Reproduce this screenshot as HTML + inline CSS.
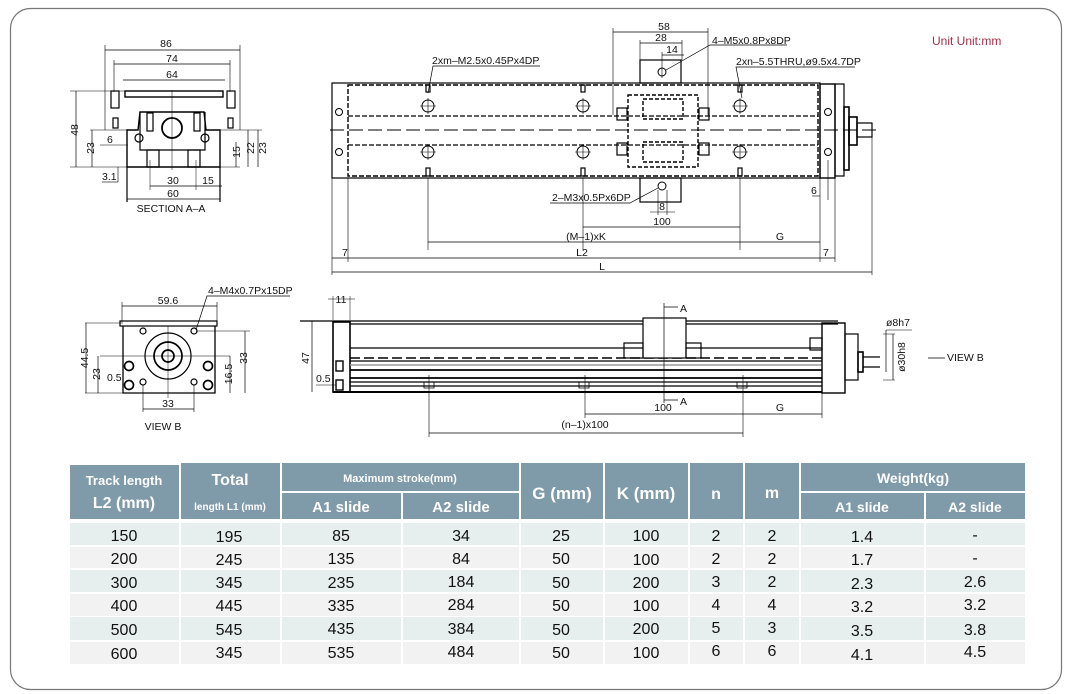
<!DOCTYPE html>
<html><head><meta charset="utf-8"><style>
html,body{margin:0;padding:0;background:#fff;width:1071px;height:694px;overflow:hidden}
svg{display:block}
.d{font-family:"Liberation Sans",sans-serif;font-size:10.5px;fill:#111}
.t{font-family:"Liberation Sans",sans-serif;fill:#fff;text-anchor:middle;font-weight:bold}
.n{font-family:"Liberation Sans",sans-serif;fill:#111;font-size:16px;text-anchor:middle}
</style></head><body>
<svg width="1071" height="694" viewBox="0 0 1071 694" xmlns="http://www.w3.org/2000/svg">
<rect x="10.5" y="8.5" width="1051" height="681" rx="20" fill="#fff" stroke="#777" stroke-width="1.2"/>
<text x="932" y="45" style="font-family:'Liberation Sans',sans-serif;font-size:12px;fill:#a0304a">Unit Unit:mm</text>

<g stroke="#000" fill="none" stroke-width="1.2">
<!-- SECTION A-A -->
<line x1="105" y1="50" x2="240" y2="50" stroke-width="0.7"/><line x1="105" y1="45" x2="105" y2="130" stroke-width="0.6"/><line x1="240" y1="45" x2="240" y2="130" stroke-width="0.6"/>
<line x1="114" y1="64" x2="230" y2="64" stroke-width="0.7"/><line x1="114" y1="60" x2="114" y2="92" stroke-width="0.6"/><line x1="230" y1="60" x2="230" y2="92" stroke-width="0.6"/>
<line x1="123" y1="80" x2="225" y2="80" stroke-width="0.7"/>
<rect x="125" y="91" width="98" height="6" stroke-width="1.4"/>
<rect x="111" y="91" width="8" height="17"/><rect x="227" y="91" width="8" height="17"/>
<rect x="113" y="118" width="5" height="10"/><rect x="228" y="118" width="5" height="10"/>
<path d="M127 130 L138 130 L140 112 L204 112 L206 130 L220 130 L220 167 L127 167 Z" stroke-width="1.4"/>
<path d="M140 112 L140 150 L205 150 L205 112"/>
<rect x="147" y="113" width="6" height="18"/><rect x="194" y="113" width="6" height="18"/>
<circle cx="172" cy="128" r="10" stroke-width="1.8"/>
<circle cx="139" cy="138" r="4"/><circle cx="205" cy="138" r="4"/>
<rect x="147" y="150" width="12" height="17"/><rect x="188" y="150" width="12" height="17"/>
<line x1="172" y1="90" x2="172" y2="170" stroke-width="0.5"/>
<line x1="70" y1="91" x2="125" y2="91" stroke-width="0.5"/><line x1="70" y1="167" x2="240" y2="167" stroke-width="0.5"/>
<line x1="76" y1="91" x2="76" y2="167" stroke-width="0.7"/>
<line x1="90" y1="130" x2="127" y2="130" stroke-width="0.5"/><line x1="92" y1="130" x2="92" y2="167" stroke-width="0.7"/>
<line x1="220" y1="130" x2="262" y2="130" stroke-width="0.5"/><line x1="258" y1="130" x2="258" y2="167" stroke-width="0.7"/>
<line x1="248" y1="130" x2="248" y2="167" stroke-width="0.7"/><line x1="236" y1="142" x2="236" y2="167" stroke-width="0.7"/>
<line x1="100" y1="145" x2="128" y2="145" stroke-width="0.6"/>
<line x1="118" y1="167" x2="118" y2="182" stroke-width="0.6"/><line x1="102" y1="182" x2="118" y2="182" stroke-width="0.6"/>
<line x1="150" y1="186" x2="196" y2="186" stroke-width="0.7"/><line x1="196" y1="186" x2="222" y2="186" stroke-width="0.7"/>
<line x1="127" y1="199" x2="220" y2="199" stroke-width="0.7"/><line x1="127" y1="167" x2="127" y2="202"/><line x1="220" y1="167" x2="220" y2="202"/>
<line x1="150" y1="160" x2="150" y2="190" stroke-width="0.5"/><line x1="196" y1="160" x2="196" y2="190" stroke-width="0.5"/>

<!-- TOP VIEW -->
<rect x="332" y="83" width="488" height="95" stroke-width="1.2"/>
<rect x="348" y="85" width="470" height="91" stroke-dasharray="5,2" stroke-width="1.4"/>
<line x1="348" y1="116" x2="818" y2="116" stroke-dasharray="5,2"/>
<line x1="348" y1="145" x2="818" y2="145" stroke-dasharray="5,2"/>
<line x1="330" y1="130" x2="880" y2="130" stroke-dasharray="14,5" stroke-width="0.9"/>
<rect x="820" y="84" width="15" height="94" stroke-width="1.4"/>
<rect x="835" y="84" width="9" height="92"/>
<rect x="844" y="107" width="5" height="63" stroke-width="1.6"/>
<rect x="849" y="117" width="8" height="28" stroke-width="1.6"/>
<rect x="857" y="123" width="15" height="14"/>
<g stroke-width="1">
<circle cx="428" cy="106" r="6"/><circle cx="583" cy="106" r="6"/><circle cx="740" cy="106" r="6"/>
<circle cx="428" cy="152" r="6"/><circle cx="583" cy="152" r="6"/><circle cx="740" cy="152" r="6"/>
<circle cx="339" cy="112" r="3.5"/><circle cx="339" cy="152" r="3.5"/><circle cx="828" cy="112" r="3.5"/><circle cx="828" cy="152" r="3.5"/>
<circle cx="662" cy="72" r="4"/><circle cx="662" cy="186" r="4"/>
</g>
<path d="M420 106h16M428 98v16M575 106h16M583 98v16M732 106h16M740 98v16M420 152h16M428 144v16M575 152h16M583 144v16M732 152h16M740 144v16" stroke-width="0.6"/>
<rect x="426" y="85" width="4" height="7"/><rect x="581" y="85" width="4" height="7"/><rect x="738" y="85" width="4" height="7"/>
<rect x="426" y="168" width="4" height="8"/><rect x="581" y="168" width="4" height="8"/><rect x="738" y="168" width="4" height="8"/>
<rect x="628" y="95" width="70" height="72" stroke-dasharray="4,2" stroke-width="1.4"/>
<rect x="643" y="99" width="40" height="20" stroke-dasharray="4,2" stroke-width="1.4"/>
<rect x="643" y="142" width="40" height="20" stroke-dasharray="4,2" stroke-width="1.4"/>
<rect x="617" y="108" width="10" height="12"/><rect x="699" y="108" width="10" height="12"/>
<rect x="617" y="143" width="10" height="12"/><rect x="699" y="143" width="10" height="12"/>
<rect x="640" y="60" width="41" height="23"/><rect x="640" y="178" width="41" height="24"/>
<line x1="613" y1="28" x2="613" y2="115" stroke-width="0.6"/><line x1="708" y1="28" x2="708" y2="115" stroke-width="0.6"/>
<line x1="613" y1="32" x2="708" y2="32" stroke-width="0.7"/>
<line x1="640" y1="43" x2="682" y2="43" stroke-width="0.7"/><line x1="640" y1="40" x2="640" y2="60" stroke-width="0.6"/><line x1="682" y1="40" x2="682" y2="60" stroke-width="0.6"/>
<line x1="662" y1="55" x2="684" y2="55" stroke-width="0.7"/><line x1="662" y1="52" x2="662" y2="78" stroke-width="0.6"/>
<path d="M666 70 L710 45 L787 45" stroke-width="0.7"/>
<path d="M428 93 L433 66 L540 66" stroke-width="0.7"/>
<path d="M742 98 L736 67 L855 67" stroke-width="0.7"/>
<path d="M658 188 L630 203 L550 203" stroke-width="0.7"/>
<line x1="658" y1="190" x2="658" y2="215" stroke-width="0.6"/><line x1="667" y1="190" x2="667" y2="215" stroke-width="0.6"/>
<line x1="650" y1="212" x2="675" y2="212" stroke-width="0.6"/>
<line x1="583" y1="178" x2="583" y2="250" stroke-width="0.6"/><line x1="428" y1="178" x2="428" y2="250" stroke-width="0.6"/><line x1="740" y1="178" x2="740" y2="250" stroke-width="0.6"/>
<line x1="583" y1="227" x2="740" y2="227" stroke-width="0.7"/>
<line x1="428" y1="242" x2="820" y2="242" stroke-width="0.7"/>
<line x1="332" y1="178" x2="332" y2="275" stroke-width="0.6"/><line x1="348" y1="178" x2="348" y2="262" stroke-width="0.6"/>
<line x1="820" y1="178" x2="820" y2="262" stroke-width="0.6"/><line x1="835" y1="178" x2="835" y2="262" stroke-width="0.6"/>
<line x1="872" y1="137" x2="872" y2="275" stroke-width="0.6"/>
<line x1="812" y1="196" x2="820" y2="196" stroke-width="0.6"/><line x1="828" y1="160" x2="828" y2="200" stroke-width="0.6"/>
<line x1="332" y1="258" x2="835" y2="258" stroke-width="0.7"/>
<line x1="332" y1="272" x2="872" y2="272" stroke-width="0.7"/>

<!-- VIEW B -->
<line x1="122" y1="306" x2="217" y2="306" stroke-width="0.7"/><line x1="122" y1="302" x2="122" y2="322" stroke-width="0.6"/><line x1="217" y1="302" x2="217" y2="322" stroke-width="0.6"/>
<rect x="120" y="321" width="97" height="5"/>
<path d="M123 326 L123 393 L215 393 L215 326" stroke-width="1.3"/>
<circle cx="168" cy="356" r="23"/><circle cx="168" cy="356" r="14" stroke-width="1.7"/><circle cx="168" cy="356" r="6" stroke-width="1.7"/>
<circle cx="143" cy="331" r="3"/><circle cx="194" cy="331" r="3"/><circle cx="143" cy="382" r="3"/><circle cx="194" cy="382" r="3"/>
<circle cx="129" cy="366" r="4.5" stroke-width="1.7"/><circle cx="208" cy="366" r="4.5" stroke-width="1.7"/>
<circle cx="129" cy="385" r="4.5" stroke-width="1.7"/><circle cx="208" cy="385" r="4.5" stroke-width="1.7"/>
<line x1="100" y1="356" x2="230" y2="356" stroke-width="0.5"/><line x1="168" y1="326" x2="168" y2="398" stroke-width="0.5"/>
<line x1="85" y1="323" x2="123" y2="323" stroke-width="0.5"/><line x1="85" y1="393" x2="123" y2="393" stroke-width="0.5"/>
<line x1="86" y1="323" x2="86" y2="393" stroke-width="0.7"/><line x1="98" y1="356" x2="98" y2="393" stroke-width="0.7"/>
<line x1="196" y1="331" x2="250" y2="331" stroke-width="0.5"/><line x1="245" y1="331" x2="245" y2="393" stroke-width="0.7"/>
<line x1="230" y1="356" x2="230" y2="393" stroke-width="0.7"/>
<line x1="143" y1="385" x2="143" y2="412" stroke-width="0.6"/><line x1="194" y1="385" x2="194" y2="412" stroke-width="0.6"/>
<line x1="143" y1="409" x2="194" y2="409" stroke-width="0.7"/>
<path d="M196 330 L207 296 L290 296" stroke-width="0.7"/>

<!-- SIDE VIEW -->
<line x1="300" y1="321" x2="838" y2="321"/><line x1="350" y1="324" x2="838" y2="324"/>
<rect x="333" y="322" width="17" height="70" stroke-width="1.6"/>
<rect x="336" y="361" width="7" height="10" stroke-width="1.4"/><rect x="336" y="380" width="7" height="10" stroke-width="1.4"/>
<line x1="350" y1="348" x2="822" y2="348"/>
<line x1="350" y1="358" x2="822" y2="358" stroke-dasharray="10,4" stroke-width="1.6"/>
<line x1="350" y1="361" x2="822" y2="361"/>
<line x1="350" y1="365" x2="822" y2="365" stroke="#999" stroke-width="1.5"/>
<line x1="350" y1="370" x2="822" y2="370" stroke-width="1.7"/>
<line x1="350" y1="378" x2="822" y2="378" stroke-width="1.7"/>
<line x1="350" y1="382" x2="822" y2="382"/><line x1="350" y1="386" x2="822" y2="386"/>
<line x1="333" y1="392" x2="822" y2="392" stroke-width="2"/>
<rect x="643" y="318" width="43" height="40" fill="#fff"/>
<rect x="624" y="343" width="19" height="15"/><rect x="686" y="343" width="15" height="15"/>
<rect x="822" y="323" width="23" height="70" stroke-width="1.4"/>
<rect x="810" y="338" width="12" height="12"/>
<rect x="845" y="334" width="13" height="46"/><rect x="858" y="352" width="5" height="20" stroke-width="1.6"/>
<line x1="863" y1="357" x2="880" y2="357"/><line x1="863" y1="367" x2="880" y2="367"/>
<line x1="664" y1="303" x2="664" y2="403" stroke-width="0.7"/>
<path d="M664 307 h14 M664 400 h14" stroke-width="0.7"/>
<path d="M424 382 h10 v6 h-10 z M579 382 h10 v6 h-10 z M737 382 h10 v6 h-10 z" stroke-width="0.8"/>
<line x1="429" y1="375" x2="429" y2="437" stroke-width="0.6"/><line x1="585" y1="375" x2="585" y2="418" stroke-width="0.6"/><line x1="743" y1="375" x2="743" y2="437" stroke-width="0.6"/>
<line x1="822" y1="393" x2="822" y2="418" stroke-width="0.6"/>
<line x1="585" y1="414" x2="822" y2="414" stroke-width="0.7"/>
<line x1="429" y1="433" x2="743" y2="433" stroke-width="0.7"/>
<line x1="312" y1="321" x2="312" y2="392" stroke-width="0.7"/>
<line x1="333" y1="296" x2="333" y2="320" stroke-width="0.5"/><line x1="350" y1="296" x2="350" y2="320" stroke-width="0.5"/>
<line x1="328" y1="299" x2="355" y2="299" stroke-width="0.6"/>
<line x1="316" y1="385" x2="336" y2="385" stroke-width="0.5"/>
<line x1="883" y1="334" x2="895" y2="334" stroke-width="0.5"/><line x1="883" y1="380" x2="895" y2="380" stroke-width="0.5"/>
<line x1="893" y1="334" x2="893" y2="380" stroke-width="0.7"/><line x1="886" y1="330" x2="886" y2="372" stroke-width="0.7"/>
<line x1="886" y1="330" x2="912" y2="330" stroke-width="0.6"/>
<line x1="928" y1="358" x2="945" y2="358" stroke-width="0.7"/>
</g>

<g class="d">
<text x="166" y="47" text-anchor="middle">86</text><text x="172" y="62" text-anchor="middle">74</text><text x="172" y="78" text-anchor="middle">64</text>
<text x="73" y="135" transform="rotate(-90 73 130)" text-anchor="middle">48</text>
<text x="90" y="152" transform="rotate(-90 90 148)" text-anchor="middle">23</text>
<text x="262" y="152" transform="rotate(-90 262 148)" text-anchor="middle">23</text>
<text x="250" y="152" transform="rotate(-90 250 148)" text-anchor="middle">22</text>
<text x="236" y="156" transform="rotate(-90 236 152)" text-anchor="middle">15</text>
<text x="107" y="143">6</text><text x="102" y="180">3.1</text>
<text x="173" y="184" text-anchor="middle">30</text><text x="208" y="184" text-anchor="middle">15</text>
<text x="173" y="197" text-anchor="middle">60</text>
<text x="171" y="212" text-anchor="middle">SECTION A–A</text>
<text x="664" y="30" text-anchor="middle">58</text><text x="661" y="41" text-anchor="middle">28</text><text x="672" y="53" text-anchor="middle">14</text>
<text x="712" y="44">4–M5x0.8Px8DP</text>
<text x="432" y="64">2xm–M2.5x0.45Px4DP</text>
<text x="736" y="65">2xn–5.5THRU,ø9.5x4.7DP</text>
<text x="552" y="201">2–M3x0.5Px6DP</text>
<text x="662" y="210" text-anchor="middle">8</text>
<text x="662" y="225" text-anchor="middle">100</text>
<text x="586" y="240" text-anchor="middle">(M–1)xK</text>
<text x="780" y="240" text-anchor="middle">G</text>
<text x="582" y="256" text-anchor="middle">L2</text>
<text x="602" y="270" text-anchor="middle">L</text>
<text x="342" y="256">7</text><text x="823" y="256">7</text><text x="811" y="194">6</text>
<text x="168" y="304" text-anchor="middle">59.6</text>
<text x="208" y="294">4–M4x0.7Px15DP</text>
<text x="84" y="362" transform="rotate(-90 84 358)" text-anchor="middle">44.5</text>
<text x="96" y="378" transform="rotate(-90 96 374)" text-anchor="middle">23</text>
<text x="243" y="362" transform="rotate(-90 243 358)" text-anchor="middle">33</text>
<text x="228" y="378" transform="rotate(-90 228 374)" text-anchor="middle">16.5</text>
<text x="107" y="381">0.5</text>
<text x="168" y="407" text-anchor="middle">33</text>
<text x="163" y="430" text-anchor="middle">VIEW B</text>
<text x="341" y="303" text-anchor="middle">11</text>
<text x="305" y="362" transform="rotate(-90 305 358)" text-anchor="middle">47</text>
<text x="316" y="382">0.5</text>
<text x="680" y="312">A</text><text x="680" y="405">A</text>
<text x="663" y="411" text-anchor="middle">100</text><text x="780" y="411" text-anchor="middle">G</text>
<text x="585" y="428" text-anchor="middle">(n–1)x100</text>
<text x="886" y="326">ø8h7</text>
<text x="901" y="361" transform="rotate(-90 901 357)" text-anchor="middle">ø30h8</text>
<text x="947" y="361">VIEW B</text>
</g>

<!-- TABLE -->
<g fill="#7f9aa8">
<rect x="70" y="465" width="109" height="54"/>
<rect x="181" y="463" width="99" height="56"/>
<rect x="282" y="463" width="237" height="28"/>
<rect x="282" y="493" width="119" height="26"/><rect x="403" y="493" width="116" height="26"/>
<rect x="521" y="463" width="82" height="56"/>
<rect x="605" y="463" width="83" height="56"/>
<rect x="690" y="463" width="53" height="56"/>
<rect x="745" y="463" width="54" height="56"/>
<rect x="801" y="463" width="224" height="28"/>
<rect x="801" y="493" width="123" height="26"/><rect x="926" y="493" width="99" height="26"/>
</g>
<g>
<text class="t" x="124" y="485" font-size="13">Track length</text>
<text class="t" x="124" y="508" font-size="16">L2 (mm)</text>
<text class="t" x="230" y="485" font-size="16">Total</text>
<text class="t" x="230" y="510" font-size="10">length L1 (mm)</text>
<text class="t" x="400" y="482" font-size="11">Maximum stroke(mm)</text>
<text class="t" x="341" y="512" font-size="15">A1 slide</text>
<text class="t" x="461" y="512" font-size="15">A2 slide</text>
<text class="t" x="562" y="499" font-size="17">G (mm)</text>
<text class="t" x="646" y="499" font-size="17">K (mm)</text>
<text class="t" x="716" y="499" font-size="16">n</text>
<text class="t" x="772" y="498" font-size="16">m</text>
<text class="t" x="913" y="483" font-size="14">Weight(kg)</text>
<text class="t" x="862" y="512" font-size="14">A1 slide</text>
<text class="t" x="975" y="512" font-size="14">A2 slide</text>
</g>
<g>
<g fill="#e6efee"><rect x="70" y="523" width="955" height="22"/><rect x="70" y="570" width="955" height="22"/><rect x="70" y="617" width="955" height="23"/></g>
<g fill="#f2f2f2"><rect x="70" y="547" width="955" height="21"/><rect x="70" y="594" width="955" height="22"/><rect x="70" y="642" width="955" height="22"/></g>
<g fill="#fff"><rect x="179" y="520" width="2" height="145"/><rect x="280" y="520" width="2" height="145"/><rect x="401" y="520" width="2" height="145"/><rect x="519" y="520" width="2" height="145"/><rect x="603" y="520" width="2" height="145"/><rect x="688" y="520" width="2" height="145"/><rect x="743" y="520" width="2" height="145"/><rect x="799" y="520" width="2" height="145"/><rect x="924" y="520" width="2" height="145"/></g>
</g>
<g class="n">
<text x="124" y="541">150</text><text x="229" y="542">195</text><text x="341" y="541">85</text><text x="461" y="541">34</text><text x="561" y="541">25</text><text x="646" y="541">100</text><text x="716" y="541">2</text><text x="772" y="541">2</text><text x="862" y="542">1.4</text><text x="975" y="540">-</text>
<text x="124" y="564">200</text><text x="229" y="565">245</text><text x="341" y="564">135</text><text x="461" y="564">84</text><text x="561" y="564">50</text><text x="646" y="565">100</text><text x="716" y="564">2</text><text x="772" y="564">2</text><text x="862" y="565">1.7</text><text x="975" y="563">-</text>
<text x="124" y="588">300</text><text x="229" y="588">345</text><text x="341" y="588">235</text><text x="461" y="587">184</text><text x="561" y="588">50</text><text x="646" y="588">200</text><text x="716" y="587">3</text><text x="772" y="587">2</text><text x="862" y="589">2.3</text><text x="975" y="587">2.6</text>
<text x="124" y="611">400</text><text x="229" y="611">445</text><text x="341" y="611">335</text><text x="461" y="610">284</text><text x="561" y="611">50</text><text x="646" y="611">100</text><text x="716" y="610">4</text><text x="772" y="610">4</text><text x="862" y="612">3.2</text><text x="975" y="610">3.2</text>
<text x="124" y="635">500</text><text x="229" y="635">545</text><text x="341" y="634">435</text><text x="461" y="634">384</text><text x="561" y="635">50</text><text x="646" y="634">200</text><text x="716" y="633">5</text><text x="772" y="633">3</text><text x="862" y="636">3.5</text><text x="975" y="635">3.8</text>
<text x="124" y="659">600</text><text x="229" y="658">345</text><text x="341" y="658">535</text><text x="461" y="657">484</text><text x="561" y="658">50</text><text x="646" y="658">100</text><text x="716" y="656">6</text><text x="772" y="656">6</text><text x="862" y="660">4.1</text><text x="975" y="657">4.5</text>
</g>
</svg>
</body></html>
